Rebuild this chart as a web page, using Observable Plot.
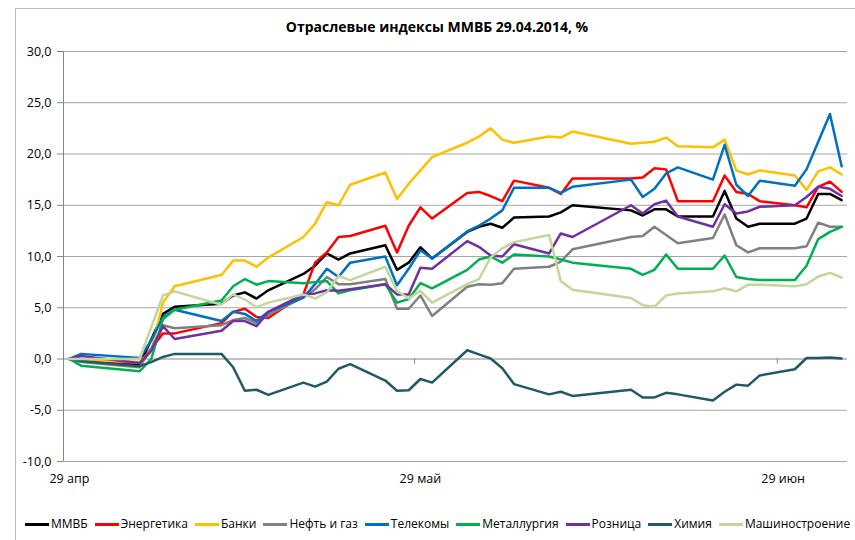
<!DOCTYPE html>
<html><head><meta charset="utf-8">
<script src="https://cdn.jsdelivr.net/npm/d3@7"></script>
<script src="https://cdn.jsdelivr.net/npm/@observablehq/plot@0.6"></script>
<style>
html,body{margin:0;padding:0;background:#fff;overflow:hidden;}
#wrap{position:relative;width:855px;height:540px;overflow:hidden;font-family:"Open Sans",sans-serif;color:#000;}
#frame{position:absolute;left:15px;top:8px;width:900px;height:600px;border:1px solid #bfbfbf;}
#title{position:absolute;left:19px;right:0;top:17px;text-align:center;font-weight:bold;font-size:14px;line-height:19px;}
#chart{position:absolute;left:0;top:0;}
#legend{position:absolute;left:25px;top:516px;display:flex;gap:7px;font-size:12px;line-height:16px;align-items:center;white-space:nowrap;}
.item{display:flex;align-items:center;}
.swatch{width:24px;height:3px;margin-right:2px;}
</style></head>
<body>
<div id="wrap">
  <div id="frame"></div>
  <div id="chart"></div>
  <div id="title"></div>
  <div id="legend"></div>
</div>
<script>
const titleText = "Отраслевые индексы ММВБ 29.04.2014, %";

const dates = ["2014-04-29","2014-04-30","2014-05-05","2014-05-06","2014-05-07","2014-05-08",
"2014-05-12","2014-05-13","2014-05-14","2014-05-15","2014-05-16",
"2014-05-19","2014-05-20","2014-05-21","2014-05-22","2014-05-23",
"2014-05-26","2014-05-27","2014-05-28","2014-05-29","2014-05-30",
"2014-06-02","2014-06-03","2014-06-04","2014-06-05","2014-06-06",
"2014-06-09","2014-06-10","2014-06-11",
"2014-06-16","2014-06-17","2014-06-18","2014-06-19","2014-06-20",
"2014-06-23","2014-06-24","2014-06-25","2014-06-26","2014-06-27",
"2014-06-30","2014-07-01","2014-07-02","2014-07-03","2014-07-04"];

const mmvb    = [0,-0.2,-0.6,1.9,4.4,5.1, 5.4,6.2,6.5,5.9,6.7, 8.3,9.1,10.3,9.7,10.3, 11.1,8.7,9.4,10.9,9.8, 12.4,12.9,13.2,12.8,13.8, 13.9,14.3,15.0, 14.5,14.0,14.6,14.6,13.9, 13.9,16.4,13.7,12.9,13.2, 13.2,13.7,16.1,16.1,15.5];
const energy  = [0,-0.1,-0.4,1.0,2.5,2.5, 3.5,4.6,4.9,4.1,4.0, 6.3,9.4,10.4,11.9,12.0, 13.0,10.4,13.0,14.8,13.7, 16.2,16.3,15.9,15.4,17.4, 16.7,16.1,17.6, 17.6,17.7,18.6,18.5,15.4, 15.4,17.9,16.3,16.1,15.4, 15.0,14.8,16.8,17.3,16.3];
const banks   = [0,-0.1,-0.3,0.8,5.5,7.1, 8.2,9.6,9.6,9.0,9.9, 11.9,13.2,15.3,15.0,17.0, 18.2,15.6,17.1,18.4,19.7, 21.1,21.7,22.5,21.4,21.1, 21.7,21.6,22.2, 21.0,21.1,21.2,21.6,20.75, 20.65,21.4,18.4,18.0,18.4, 17.9,16.5,18.3,18.7,18.0];
const oilgas  = [0,-0.3,-0.8,1.0,3.3,3.0, 3.3,3.8,4.0,3.5,4.3, 6.0,6.8,8.0,7.3,7.3, 7.8,4.9,4.9,6.2,4.2, 7.05,7.3,7.25,7.4,8.8, 9.0,9.5,10.7, 11.9,12.0,12.9,12.1,11.3, 11.8,14.1,11.1,10.4,10.8, 10.8,11.0,13.3,12.9,12.9];
const telecom = [0,0.5,0.1,1.8,4.1,4.8, 3.7,4.6,4.4,3.7,4.6, 6.0,7.3,8.8,8.0,9.4, 10.0,7.2,8.8,10.6,9.8, 12.45,13.0,13.7,14.5,16.7, 16.7,16.2,16.8, 17.5,15.8,16.6,18.1,18.7, 17.5,20.9,17.0,15.9,17.4, 16.9,18.5,21.2,23.9,18.8];
const metals  = [0,-0.65,-1.2,0.0,3.9,4.8, 5.7,7.1,7.8,7.25,7.6, 7.4,7.5,7.6,6.4,6.7, 7.3,5.5,5.85,7.4,6.9, 8.7,9.7,10.0,9.4,10.2, 10.0,9.7,9.4, 8.8,8.2,8.7,10.2,8.8, 8.8,10.1,8.0,7.8,7.7, 7.7,9.1,11.7,12.4,12.9];
const retail  = [0,0.3,-0.4,0.8,3.2,1.95, 2.75,3.7,3.7,3.2,4.6, 6.3,6.4,6.7,6.65,6.8, 7.3,6.3,6.3,8.9,8.8, 11.5,10.95,10.1,10.0,11.2, 10.3,12.25,11.9, 15.0,14.2,15.1,15.45,13.9, 12.9,15.1,14.2,14.4,14.85, 15.0,15.8,16.8,16.6,15.9];
const chem    = [0,-0.2,-0.7,-0.3,0.2,0.5, 0.5,-0.8,-3.1,-3.0,-3.5, -2.3,-2.7,-2.2,-0.95,-0.5, -2.1,-3.1,-3.05,-1.95,-2.3, 0.85,0.45,0.05,-0.9,-2.45, -3.45,-3.2,-3.6, -3.0,-3.75,-3.75,-3.3,-3.45, -4.05,-3.2,-2.5,-2.6,-1.6, -1.0,0.1,0.1,0.15,0.05];
const machine = [0,0,0,3.1,6.2,6.6, 5.3,6.3,5.8,5.05,5.5, 6.3,5.9,6.5,8.1,7.7, 9.0,6.65,5.9,6.65,5.5, 7.3,7.8,9.9,10.8,11.4, 12.1,7.6,6.75, 5.95,5.25,5.1,6.2,6.4, 6.6,6.9,6.6,7.25,7.25, 7.1,7.3,8.05,8.4,7.95];

const seriesNames  = ["ММВБ","Энергетика","Банки","Нефть и газ","Телекомы","Металлургия","Розница","Химия","Машиностроение"];
const seriesColors = ["#000000","#ff0000","#ffc000","#808080","#0070c0","#00b050","#7030a0","#215968","#c3d69b"];
const seriesValues = [mmvb, energy, banks, oilgas, telecom, metals, retail, chem, machine];

const yTicks = [-10,-5,0,5,10,15,20,25,30];
const xTickDates = ["2014-04-29","2014-05-29","2014-06-29"];
const xTickLabels = ["29 апр","29 май","29 июн"];
const xBoundaryDates = ["2014-05-28T12:00:00Z","2014-06-28T12:00:00Z"];
const xDomain = ["2014-04-28T12:00:00Z","2014-07-04T12:00:00Z"];

const rows = seriesNames.flatMap((name, k) =>
  seriesValues[k].map((v, i) => ({date: new Date(dates[i]), value: v, series: name})));

const labelMap = new Map(xTickDates.map((d, i) => [+new Date(d), xTickLabels[i]]));
const xStart = new Date(xDomain[0]);

const chart = Plot.plot({
  width: 855, height: 500,
  marginTop: 51, marginBottom: 39, marginLeft: 63, marginRight: 8,
  style: {fontFamily: "Open Sans, sans-serif", fontSize: "12.5px", background: "transparent", color: "#000"},
  x: {type: "utc", domain: xDomain.map(d => new Date(d))},
  y: {domain: [-10, 30]},
  color: {domain: seriesNames, range: seriesColors},
  marks: [
    Plot.ruleY(yTicks.filter(d => d !== 0), {stroke: "#a6a6a6", strokeWidth: 1}),
    Plot.ruleY([0], {stroke: "#868686", strokeWidth: 1}),
    Plot.ruleX([xStart], {y1: -10, y2: 30, stroke: "#868686", strokeWidth: 1}),
    Plot.ruleX(xBoundaryDates.map(d => new Date(d)), {y1: 0, y2: -0.5, stroke: "#868686", strokeWidth: 1}),
    Plot.axisY({ticks: yTicks, tickSize: 6, tickPadding: 6, stroke: "#868686", fill: "#000",
      tickFormat: d => d.toFixed(1).replace(".", ","), label: null}),
    Plot.axisX({ticks: xTickDates.map(d => new Date(d)), tickSize: 0, tickPadding: 13, fill: "#000",
      tickFormat: d => labelMap.get(+d), label: null}),
    Plot.lineY(rows, {x: "date", y: "value", z: "series", stroke: "series",
      strokeWidth: 2.5, strokeLinejoin: "round", strokeLinecap: "round"})
  ]
});
document.getElementById("chart").appendChild(chart);
document.getElementById("title").textContent = titleText;

const legend = document.getElementById("legend");
seriesNames.forEach((name, k) => {
  const item = document.createElement("div");
  item.className = "item";
  const sw = document.createElement("div");
  sw.className = "swatch";
  sw.style.background = seriesColors[k];
  const lab = document.createElement("span");
  lab.textContent = name;
  item.appendChild(sw); item.appendChild(lab);
  legend.appendChild(item);
});
</script>
</body></html>
